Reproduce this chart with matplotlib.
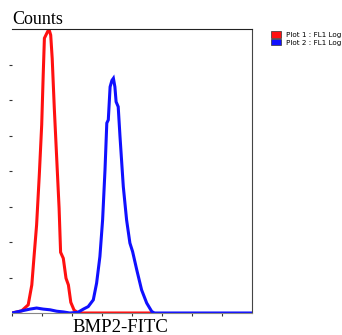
import matplotlib
matplotlib.use("Agg")
import matplotlib.pyplot as plt
from matplotlib.patches import Patch

# Data (x in tick units, y in tick units)
red_x = [0, 0.32, 0.54, 0.66, 0.73, 0.82, 0.91, 0.99, 1.04, 1.08, 1.16, 1.23, 1.29, 1.34,
         1.41, 1.49, 1.57, 1.62, 1.71, 1.80, 1.88, 1.96, 2.07, 2.21, 4.6]
red_y = [0, 0.06, 0.23, 0.79, 1.54, 2.48, 3.89, 5.30, 6.70, 7.74, 7.88, 8.0, 7.83, 7.17,
         5.77, 4.36, 2.95, 1.71, 1.54, 0.98, 0.79, 0.30, 0.08, 0, 0]

blue_x = [0, 0.27, 0.60, 0.82, 1.04, 1.27, 1.49, 1.71, 1.93, 2.20, 2.38, 2.54, 2.71, 2.82,
          2.93, 3.02, 3.10, 3.16, 3.21, 3.27, 3.33, 3.38, 3.43, 3.47, 3.54, 3.60, 3.71,
          3.82, 3.93, 4.02, 4.16, 4.32, 4.49, 4.66, 4.75, 8.0]
blue_y = [0, 0.05, 0.11, 0.14, 0.11, 0.09, 0.05, 0.03, 0, 0.02, 0.11, 0.18, 0.37, 0.84,
          1.59, 2.62, 4.03, 5.35, 5.44, 6.37, 6.55, 6.61, 6.37, 5.95, 5.81, 4.97, 3.56,
          2.62, 1.97, 1.73, 1.21, 0.65, 0.28, 0.04, 0, 0]

legend_labels = ["Plot 1 : FL1 Log", "Plot 2 : FL1 Log"]
x_label = "BMP2-FITC"
y_label = "Counts"

fig = plt.figure(figsize=(3.42, 3.35), dpi=100)
ax = fig.add_axes([12/342, 22/335, 240/342, 284/335])

ax.plot(red_x, red_y, color="#ff1010", lw=2.2, solid_joinstyle="miter")
ax.plot(blue_x, blue_y, color="#1010ff", lw=2.2, solid_joinstyle="miter")

ax.set_xlim(0, 8)
ax.set_ylim(0, 8)
ax.set_xticks(range(0, 8))
ax.set_yticks(range(1, 8))
ax.set_xticklabels([])
ax.set_yticklabels([])
ax.tick_params(axis="both", direction="out", length=2, width=0.8, color="#333333")
ax.spines["left"].set_visible(False)
ax.spines["top"].set_color("#222222")
ax.spines["right"].set_color("#444444")
ax.spines["bottom"].set_color("#888888")
for s in ax.spines.values():
    s.set_linewidth(0.8)

fig.text(12/342, 1 - 19/335, y_label, family="Liberation Serif", fontsize=13,
         ha="left", va="center")
fig.text(120/342, 1 - 328/335, x_label, family="Liberation Serif", fontsize=13.5,
         ha="center", va="center")

handles = [Patch(facecolor="#ff1010", edgecolor="#333333", lw=0.5),
           Patch(facecolor="#1010ff", edgecolor="#333333", lw=0.5)]
fig.legend(handles, legend_labels, loc="upper left", bbox_to_anchor=(266/342, 1 - 26/335),
           frameon=False, fontsize=5.2, handlelength=1.4, handleheight=1.0,
           handletextpad=0.6, labelspacing=0.15, borderpad=0.2)

fig.savefig("out.png", dpi=100)
